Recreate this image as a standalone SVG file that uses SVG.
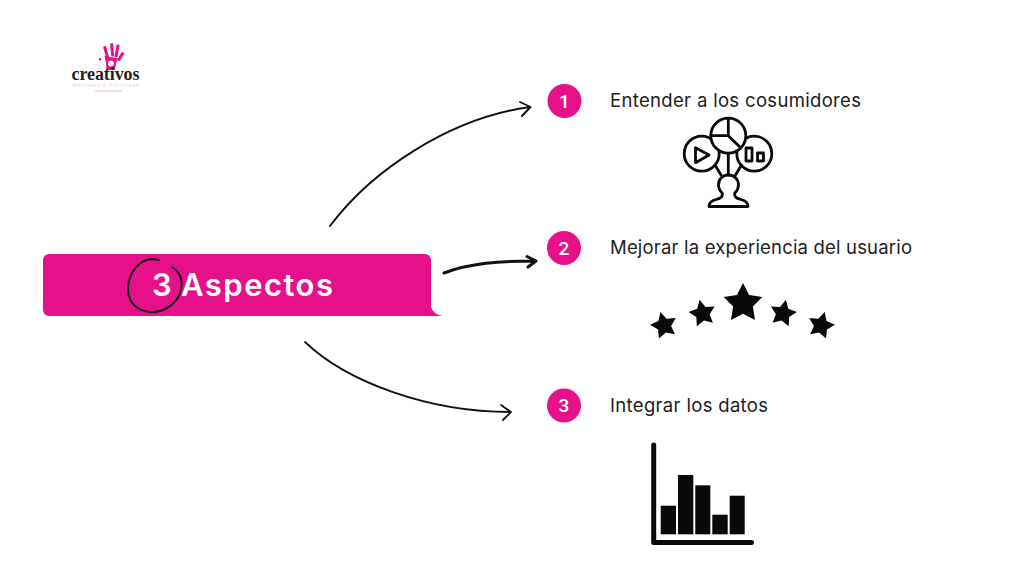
<svg xmlns="http://www.w3.org/2000/svg" width="1024" height="576" viewBox="0 0 1024 576">
<defs>
<path id="star" d="M0-10L3-4.100L9.510-3.090L4.850 1.580L5.880 8.090L0 5.100L-5.880 8.090L-4.850 1.580L-9.510-3.090L-3-4.100z"/>
</defs>
<style>
.lbl{font-family:"Inter","Noto Sans","Liberation Sans",sans-serif;font-size:18.5px;fill:#1c1c1c}
.num{font-family:"Roboto","Liberation Sans",sans-serif;font-size:19px;font-weight:500;fill:#fff;text-anchor:middle}
.dot{fill:#e5108a}
.wire{fill:none;stroke:#111;stroke-linecap:round;stroke-linejoin:round}
.ic{fill:none;stroke:#0a0a0a;stroke-width:2.800;stroke-linejoin:round;stroke-linecap:round}
.fg{fill:none;stroke:#e5108a;stroke-width:3;stroke-linecap:round}
</style>
<rect width="1024" height="576" fill="#fff"/>
<g id="logo">
<path class="fg" d="M104.800 47.500L107.500 57M111.700 44.500L112.500 55M118 46L116 56M122.500 53.500L119 59.500"/>
<path fill="#e5108a" d="M104.500 56L118.500 58.500L116 63L115 70H106.500L106 63z"/>
<circle cx="110.800" cy="63.500" r="3" fill="#fff"/>
<circle cx="100" cy="59.300" r="1.200" fill="#e5108a"/>
<text x="105.500" y="79.500" text-anchor="middle" font-family="Liberation Serif,serif" font-weight="700" font-size="18" fill="#231f20" textLength="68">creativos</text>
<text x="105.500" y="86.800" text-anchor="middle" font-family="Liberation Sans,sans-serif" font-size="5" fill="#e0dcde" textLength="66">Mercadeo &amp; Publicidad</text>
<rect x="95" y="90.500" width="27" height="1" fill="#eeb0d2"/>
</g>
<g id="connectors">
<path class="wire" stroke-width="1.900" d="M330 226C372 170 450 118 530 107M520 102L530.500 107 522 116"/>
<path class="wire" stroke-width="3" d="M444 273C470 263 500 261 535 261M527 256.500L536 261 528 267"/>
<path class="wire" stroke-width="1.800" d="M305 342C348 383 430 412 510 412M501 405L511 412 503 420"/>
</g>
<g id="main">
<path fill="#e5108a" d="M49 254H425a6 6 0 0 1 6 6V307Q433 314 442.500 316H49a6 6 0 0 1-6-6V260a6 6 0 0 1 6-6z"/>
<text x="152" y="296" font-family="Inter,Noto Sans,sans-serif" font-size="31" font-weight="600" fill="#fff">3</text>
<text x="181" y="296" font-family="Inter,Noto Sans,sans-serif" font-size="31" font-weight="600" fill="#fff" textLength="152">Aspectos</text>
<path fill="none" stroke="#111" stroke-width="1.900" stroke-linecap="round" d="M172 267C180 272 183 280 181 290C178 303 165 312 152 312C137 312 128 302 128 289C128 275 138 259 153 259L159 260"/>
</g>
<g id="item1">
<circle class="dot" cx="564.500" cy="101" r="17"/><text class="num" x="564.500" y="107.500">1</text>
<text class="lbl" x="610" y="107" textLength="251">Entender a los cosumidores</text>
<g class="ic">
<circle cx="701.700" cy="153.700" r="17.500"/>
<path d="M695.500 147.700V162.700L709 155z"/>
<circle cx="754.300" cy="153.700" r="17.500"/>
<rect x="746" y="148" width="6" height="13"/>
<rect x="757.500" y="153" width="6" height="8"/>
<circle cx="728.300" cy="135.700" r="17.500" fill="#fff"/>
<path d="M728.300 118.500V135.700H712M728.300 135.700L741 148"/>
<path d="M728.300 153.500V175M715 165L721 175M741.500 165L735.500 175"/>
<path d="M722.500 193.500C722.500 197.500 720 198.500 716 199.500C712 200.500 709 202.500 709 206.500H748C748 202.500 745 200.500 741 199.500C737 198.500 734.500 197.500 734.500 193.500C737 191 738.500 188.500 738.500 185C738.500 179 734 175 728.300 175C722.500 175 718.500 179 718.500 185C718.500 188.500 720 191 722.500 193.500z"/>
</g>
</g>
<g id="item2">
<circle class="dot" cx="564" cy="248" r="17"/><text class="num" x="564" y="254.500">2</text>
<text class="lbl" x="610" y="254" textLength="302">Mejorar la experiencia del usuario</text>
<g fill="#0a0a0a">
<use href="#star" transform="translate(743 303.400) scale(2.040)"/>
<use href="#star" transform="translate(702.500 313.500) rotate(-12) scale(1.400)"/>
<use href="#star" transform="translate(783 313.500) rotate(12) scale(1.400)"/>
<use href="#star" transform="translate(664 325.500) rotate(-15) scale(1.400)"/>
<use href="#star" transform="translate(821 325.500) rotate(15) scale(1.400)"/>
</g>
</g>
<g id="item3">
<circle class="dot" cx="564" cy="405.500" r="17"/><text class="num" x="564" y="412">3</text>
<text class="lbl" x="610" y="412" textLength="158">Integrar los datos</text>
<path fill="none" stroke="#0a0a0a" stroke-width="5" stroke-linecap="round" stroke-linejoin="round" d="M653.700 445V542.500H751.500"/>
<g fill="#0a0a0a">
<rect x="660.700" y="505.700" width="15.300" height="28.600"/>
<rect x="678" y="475" width="15.300" height="59.300"/>
<rect x="695.300" y="485.300" width="15" height="49"/>
<rect x="712.300" y="514.700" width="15.400" height="19.600"/>
<rect x="729.700" y="495.700" width="15" height="38.600"/>
</g>
</g>
</svg>
